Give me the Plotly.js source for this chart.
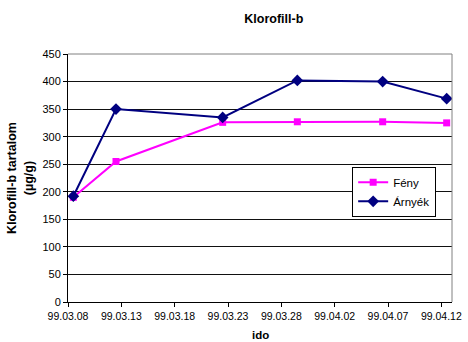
<!DOCTYPE html>
<html>
<head>
<meta charset="utf-8">
<script src="https://cdn.plot.ly/plotly-3.0.1.min.js"></script>
<style>
  html, body { margin: 0; padding: 0; background: #fff; }
  #chart { width: 468px; height: 342px; }
</style>
</head>
<body>
<div id="chart"></div>
<script>
// Klorofill-b tartalom mérési dátumok szerint
const dates = ['1999-03-08', '1999-03-12', '1999-03-22', '1999-03-29', '1999-04-06', '1999-04-12'];
const feny = [190, 255, 326, 327, 327, 325];
const arnyek = [192, 350, 335, 402, 400, 369];
const tickDates = ['1999-03-08', '1999-03-13', '1999-03-18', '1999-03-23', '1999-03-28', '1999-04-02', '1999-04-07', '1999-04-12'];
const tickLabels = ['99.03.08', '99.03.13', '99.03.18', '99.03.23', '99.03.28', '99.04.02', '99.04.07', '99.04.12'];

// points sit in the middle of their day, as on a day-based date axis
const xMid = dates.map(d => d + ' 12:00');

const font = 'Liberation Sans, Arial, sans-serif';

const traces = [
  {
    x: xMid, y: feny, name: 'Fény', type: 'scatter', mode: 'lines+markers',
    line: { color: '#FF00FF', width: 2 },
    marker: { symbol: 'square', size: 7, color: '#FF00FF' }
  },
  {
    x: xMid, y: arnyek, name: 'Árnyék', type: 'scatter', mode: 'lines+markers',
    line: { color: '#000080', width: 2 },
    marker: { symbol: 'diamond', size: 9, color: '#000080' }
  }
];

const layout = {
  width: 468, height: 342,
  margin: { l: 68, r: 16, t: 54, b: 40, pad: 0 },
  paper_bgcolor: '#fff', plot_bgcolor: '#fff',
  font: { family: font, size: 11, color: '#000' },
  title: {
    text: '<b>Klorofill-b</b>',
    font: { family: font, size: 12.5, color: '#000' },
    x: 0.585, xanchor: 'center', y: 0.947, yanchor: 'middle'
  },
  xaxis: {
    type: 'date',
    range: ['1999-03-08', '1999-04-13'],
    tickmode: 'array', tickvals: tickDates, ticktext: tickLabels,
    ticks: 'outside', ticklen: 4, tickcolor: '#000',
    showline: true, linecolor: '#000', linewidth: 1,
    showgrid: false, zeroline: false,
    tickfont: { family: font, size: 10.5, color: '#000' }
  },
  yaxis: {
    range: [0, 450], dtick: 50, tick0: 0,
    ticks: 'outside', ticklen: 4, tickcolor: '#000',
    showline: true, linecolor: '#000', linewidth: 1,
    showgrid: true, gridcolor: '#111', gridwidth: 1,
    zeroline: false,
    tickfont: { family: font, size: 11, color: '#000' },
    title: {
      text: '<b>Klorofill-b tartalom<br>(µg/g)</b>',
      font: { family: font, size: 12.5, color: '#000' }, standoff: 6
    }
  },
  // x-axis title, low along the bottom edge
  annotations: [
    { text: '<b>ido</b>', xref: 'paper', yref: 'paper', x: 0.5, y: 0,
      xanchor: 'center', yanchor: 'top', yshift: -25, showarrow: false,
      font: { family: font, size: 11.5, color: '#000' } }
  ],
  legend: {
    x: 0.74, y: 0.545, xanchor: 'left', yanchor: 'top',
    bgcolor: '#fff', bordercolor: '#000', borderwidth: 1,
    font: { family: font, size: 11.5, color: '#000' },
    tracegroupgap: 0, itemwidth: 30
  },
  shapes: [
    { type: 'line', xref: 'paper', yref: 'paper', x0: 0, x1: 1, y0: 1, y1: 1,
      line: { color: '#808080', width: 1 }, layer: 'above' },
    { type: 'line', xref: 'paper', yref: 'paper', x0: 1, x1: 1, y0: 0, y1: 1,
      line: { color: '#808080', width: 1 }, layer: 'above' }
  ],
  showlegend: true
};

Plotly.newPlot('chart', traces, layout, { staticPlot: true, displayModeBar: false });
</script>
</body>
</html>
